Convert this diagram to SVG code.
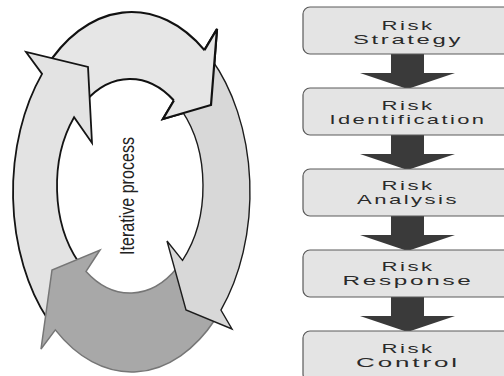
<svg xmlns="http://www.w3.org/2000/svg" width="504" height="376" viewBox="0 0 504 376">
<style>
.box{fill:#e4e4e4;stroke:#5a5a5a;stroke-width:1.2}
.lbl{font-family:"Liberation Sans",Arial,sans-serif;font-size:13.5px;letter-spacing:1.5px;fill:#2a2a2a;text-anchor:middle}
.conn{fill:#3a3a3a;stroke:none}
.segA{fill:#e6e6e6;stroke:#111;stroke-width:2.2;stroke-linejoin:miter}
.segB{fill:#d8d8d8;stroke:#1c1c1c;stroke-width:1.4;stroke-linejoin:miter}
.segC{fill:#a8a8a8;stroke:#767676;stroke-width:1.5;stroke-linejoin:miter}
.segD{fill:#e3e3e3;stroke:#141414;stroke-width:1.8;stroke-linejoin:miter}
</style>
<rect width="504" height="376" fill="#ffffff"/>
<g id="cycle">
  <path id="seg-top" class="segA" d="M44.83,69.24 A118.5,180 0 0 1 204.46,50.16 L217,29 L211,105 L163,119 L173.93,100.55 A73,107 0 0 0 85.05,101.68 Z"/>
  <path id="seg-left" class="segD" d="M47.71,319.28 A118.5,180 0 0 1 42.07,73.9 L26,52 L88,67 L92,143 L74.08,117.22 A73,107 0 0 0 78.38,261.66 Z"/>
  <path id="seg-bottom" class="segC" d="M215.29,319.28 A118.5,180 0 0 1 55.33,329.88 L41,349 L52,270 L100,250 L86.07,271.45 A73,107 0 0 0 176.92,267.96 Z"/>
  <path id="seg-right" class="segB" d="M210.79,58.24 A118.5,180 0 0 1 220.93,310.10 L232,329 L186,310 L167,241 L182.51,260.33 A73,107 0 0 0 181.62,110.34 Z"/>
  <path fill="#e6e6e6" stroke="none" d="M204.46,50.16 L217,29 L211,105 L163,119 L173.93,100.55 Z"/>
  <path fill="none" stroke="#111" stroke-width="2.2" d="M204.46,50.16 L217,29 L211,105 L163,119 L173.93,100.55"/>
  <text transform="translate(134,196) rotate(-90)" style="font-family:'Liberation Sans',Arial,sans-serif;font-size:21px;fill:#222;text-anchor:middle" textLength="118" lengthAdjust="spacingAndGlyphs">Iterative process</text>
</g>
<g id="connectors">
  <path class="conn" d="M391,54 H424 V73 H455 L407.5,89 L360,73 H391 Z"/>
  <path class="conn" d="M391,135 H424 V154 H455 L407.5,170 L360,154 H391 Z"/>
  <path class="conn" d="M391,216 H424 V235 H455 L407.5,251 L360,235 H391 Z"/>
  <path class="conn" d="M391,297 H424 V316 H455 L407.5,332 L360,316 H391 Z"/>
</g>
<g id="risk-strategy">
  <rect class="box" x="303" y="7" width="212" height="47" rx="7"/>
  <text class="lbl" x="408" y="30" textLength="53" lengthAdjust="spacingAndGlyphs">Risk</text>
  <text class="lbl" x="408" y="44" textLength="110" lengthAdjust="spacingAndGlyphs">Strategy</text>
</g>
<g id="risk-identification">
  <rect class="box" x="303" y="88" width="212" height="47" rx="7"/>
  <text class="lbl" x="408" y="110" textLength="53" lengthAdjust="spacingAndGlyphs">Risk</text>
  <text class="lbl" x="408" y="124" textLength="157" lengthAdjust="spacingAndGlyphs">Identification</text>
</g>
<g id="risk-analysis">
  <rect class="box" x="303" y="169" width="212" height="47" rx="7"/>
  <text class="lbl" x="408" y="190" textLength="53" lengthAdjust="spacingAndGlyphs">Risk</text>
  <text class="lbl" x="408" y="204" textLength="102" lengthAdjust="spacingAndGlyphs">Analysis</text>
</g>
<g id="risk-response">
  <rect class="box" x="303" y="250" width="212" height="47" rx="7"/>
  <text class="lbl" x="408" y="271" textLength="53" lengthAdjust="spacingAndGlyphs">Risk</text>
  <text class="lbl" x="408" y="285" textLength="131" lengthAdjust="spacingAndGlyphs">Response</text>
</g>
<g id="risk-control">
  <rect class="box" x="303" y="331" width="212" height="50" rx="7"/>
  <text class="lbl" x="408" y="353" textLength="53" lengthAdjust="spacingAndGlyphs">Risk</text>
  <text class="lbl" x="408" y="367" textLength="104" lengthAdjust="spacingAndGlyphs">Control</text>
</g>
</svg>
